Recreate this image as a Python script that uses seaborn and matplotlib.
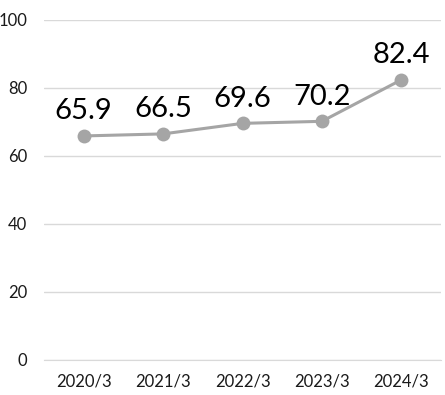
import matplotlib
matplotlib.use("Agg")
import matplotlib.pyplot as plt
import seaborn as sns
import numpy as np
import pandas as pd

categories = ["2020/3", "2021/3", "2022/3", "2023/3", "2024/3"]
values = [65.9, 66.5, 69.6, 70.2, 82.4]
yticks = [0, 20, 40, 60, 80, 100]

sns.set_style("white")
plt.rcParams['font.family'] = ['Lato', 'DejaVu Sans']

fig = plt.figure(figsize=(4.45, 3.95), dpi=100)
ax = fig.add_axes([44/445, 35/395, 397/445, 340/395])

df = pd.DataFrame({"cat": categories, "val": values})
x = np.arange(len(categories))
sns.lineplot(x=x, y=df["val"], ax=ax, color="#A5A5A5", linewidth=2.2,
             marker="o", markersize=10, markeredgewidth=0, markerfacecolor="#A5A5A5")

for xi, v in zip(x, values):
    ax.annotate(f"{v:.1f}", (xi, v), xytext=(0, 12), textcoords="offset points",
                ha="center", va="baseline", fontsize=21, color="black")

ax.set_xlim(-0.5, len(categories) - 0.5)
ax.set_ylim(0, 100)
ax.set_yticks(yticks)
ax.set_yticklabels([str(t) for t in yticks], fontsize=12, color="#1a1a1a")
ax.set_xticks(x)
ax.set_xticklabels(categories, fontsize=12, color="#1a1a1a")
ax.set_xticks(np.arange(-0.5, len(categories), 1.0), minor=True)
ax.tick_params(axis="x", which="major", length=0, pad=10)
ax.tick_params(axis="x", which="minor", length=5, color="#D9D9D9", width=1)
ax.tick_params(axis="y", length=0, pad=12)
ax.grid(axis="y", color="#D9D9D9", linewidth=1)
ax.set_axisbelow(True)
for s in ["top", "right", "left"]:
    ax.spines[s].set_visible(False)
ax.spines["bottom"].set_color("#D9D9D9")
ax.set_xlabel("")
ax.set_ylabel("")

fig.savefig("out.png", dpi=100)
